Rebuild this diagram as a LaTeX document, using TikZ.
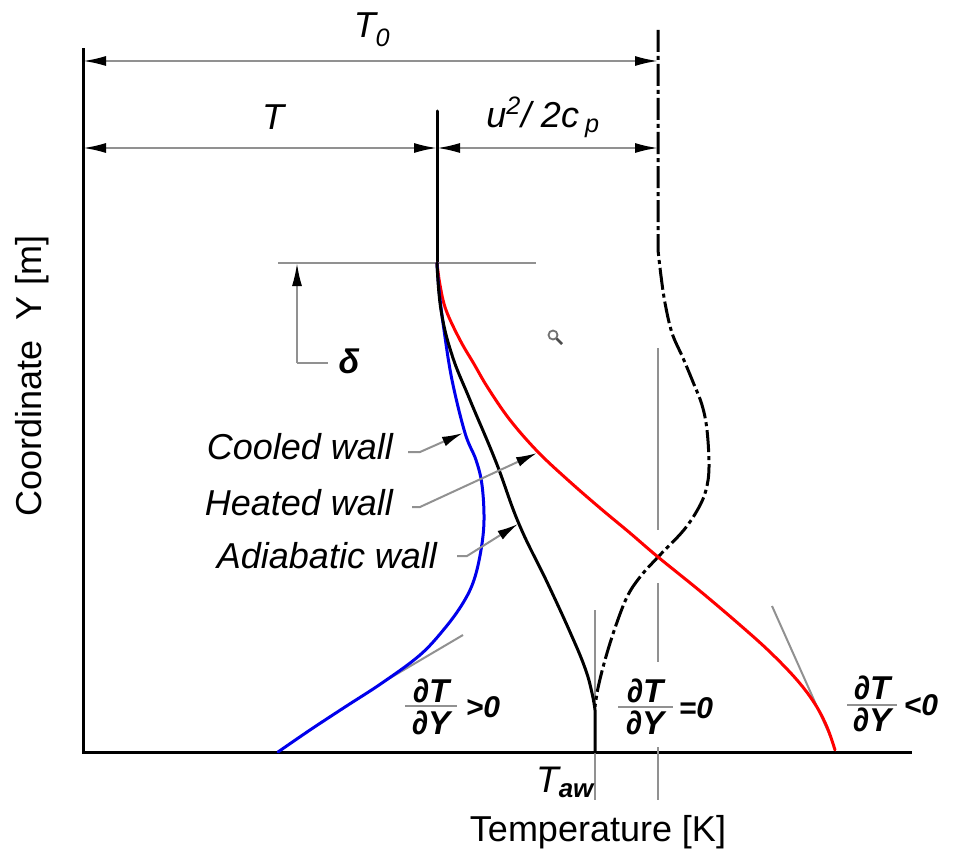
\documentclass[tikz,border=0pt]{standalone}
\usepackage{fontspec}
\setmainfont{Liberation Sans}
\usetikzlibrary{arrows.meta}
\definecolor{dimgray}{RGB}{145,145,145}
\definecolor{cblue}{RGB}{0,0,235}
\definecolor{cred}{RGB}{255,0,0}
\tikzset{
  dimtip/.tip={Latex[length=23pt,width=10pt,color=black]},
  leadtip/.tip={Latex[length=21pt,width=10pt,color=black]},
  thin gray/.style={draw=dimgray, line width=2pt},
  dimarrow/.style={thin gray, dimtip-dimtip},
  leader/.style={thin gray, -leadtip},
  axisline/.style={draw=black, line width=3pt},
  curve/.style={line width=3pt, line join=round, line cap=round},
  dashdot/.style={draw=black, line width=3pt, dash pattern=on 22pt off 4pt on 4pt off 4pt},
  lbl/.style={font=\fontsize{36}{40}\selectfont\itshape, inner sep=0pt},
  upl/.style={font=\fontsize{36}{40}\selectfont, inner sep=0pt},
  fr/.style={font=\fontsize{33}{33}\selectfont\bfseries\itshape, inner sep=0pt},
  frr/.style={font=\fontsize{30}{30}\selectfont\bfseries\itshape, inner sep=0pt},
}
\begin{document}
\begin{tikzpicture}[x=1pt,y=-1pt]
\useasboundingbox (0,0) rectangle (958,864);

% frame
\coordinate (LT) at (83,50);
\coordinate (O) at (83,752);
\coordinate (XE) at (910,752);
\draw[axisline, line cap=rect] (LT) -- (O) -- (XE);

% dimension lines
\coordinate (T0a) at (83,61);
\coordinate (T0b) at (658,61);
\coordinate (Ta) at (83,148);
\coordinate (Tb) at (437,148);
\coordinate (Uc) at (658,148);
\draw[dimarrow] (T0a) -- (T0b);
\draw[dimarrow] (Ta) -- (Tb);
\draw[dimarrow] (Tb) -- (Uc);
\node[lbl] (T0lbl) at (372,30) {T\textsubscript{0}};
\node[lbl] (Tlbl) at (273,117) {T};
\node[lbl] (ulbl) at (543,117) {u\raisebox{4pt}{\textsuperscript{2}}/ 2c\,\textsubscript{p}};

% vertical centre line (outer flow T)
\coordinate (Vtop) at (437,111);
\coordinate (V0) at (437,263);
\draw[curve] (Vtop) -- (V0);

% delta marker
\coordinate (Da) at (278,263);
\coordinate (Db) at (536,263);
\coordinate (Dv) at (297,263);
\coordinate (Dc) at (297,363);
\coordinate (Dh) at (328,363);
\draw[thin gray] (Da) -- (Db);
\draw[thin gray, -dimtip] (Dc) -- (Dv);
\draw[thin gray] (Dc) -- (Dh);
\node[font=\fontsize{34}{34}\selectfont\bfseries\itshape, inner sep=0pt] (delta) at (349,361) {δ};

% magnifier glyph
\coordinate (mg) at (553,335);
\coordinate (mh) at (562,344);
\draw[black!55, line width=1.8pt] (mg) circle (4.5);
\draw[black!70, line width=2.5pt] (mg) ++(3.5,3.5) -- (mh);

% gray reference lines
\coordinate (G1a) at (595,610);
\coordinate (G1b) at (595,800);
\draw[thin gray] (G1a) -- (G1b);
\coordinate (G2a) at (658,348);
\coordinate (G2b) at (658,530);
\coordinate (G2c) at (658,583);
\coordinate (G2d) at (658,662);
\coordinate (G2e) at (658,747);
\coordinate (G2f) at (658,800);
\draw[thin gray] (G2a) -- (G2b);
\draw[thin gray] (G2c) -- (G2d);
\draw[thin gray] (G2e) -- (G2f);

% tangents
\coordinate (tb1) at (463,635);
\coordinate (tb2) at (385,681);
\draw[thin gray] (tb1) -- (tb2);
\coordinate (tr1) at (772,606);
\coordinate (tr2) at (831,738);
\draw[thin gray] (tr1) -- (tr2);

% stagnation temperature profile (dash-dot)
\coordinate (S0) at (658,30);
\draw[dashdot, line join=round] (S0) -- plot[smooth, tension=0.6] coordinates {
  (658,250) (661,276) (665,303) (672,333) (683,358) (693,382) (702,405)
  (707,430) (709,467) (706,490) (698,509) (683,531) (658,557) (640,577)
  (627,597) (615,628) (605,660) (598,688) (595,707)};

% red: heated wall
\draw[curve, cred] plot[smooth, tension=0.6] coordinates {
  (437,263) (440,285) (446,310) (460,340) (474,364) (488,388) (510,420)
  (538,452) (569,481) (600,508) (630,533) (658,557) (700,591) (740,625)
  (770,652) (797,680) (815,704) (827,727) (835,750)};

% blue: cooled wall
\draw[curve, cblue] plot[smooth, tension=0.6] coordinates {
  (437,263) (439,290) (444,330) (452,380) (465,433) (476,460) (482,485)
  (484,520) (481,550) (474,580) (463,603) (445,628) (420,655) (382,683)
  (345,707) (310,730) (278,752)};

% black: adiabatic wall
\draw[curve, black] plot[smooth, tension=0.7] coordinates {
  (437,263) (441,310) (452,355) (470,400) (496,462) (519,524) (547,582)
  (570,632) (585,668) (592,693) (595,710)} -- (595,752);

% wall labels
\node[lbl] (cool) at (300,447) {Cooled wall};
\node[lbl] (heat) at (299,503) {Heated wall};
\node[lbl] (adia) at (327,556) {Adiabatic wall};
\coordinate (cA) at (408,452); \coordinate (cB) at (420,452); \coordinate (cC) at (463,433);
\coordinate (hA) at (412,507); \coordinate (hB) at (420,507); \coordinate (hC) at (537,453);
\coordinate (aA) at (457,556); \coordinate (aB) at (467,556); \coordinate (aC) at (518,524);
\draw[leader] (cA) -- (cB) -- (cC);
\draw[leader] (hA) -- (hB) -- (hC);
\draw[leader] (aA) -- (aB) -- (aC);

% gradient labels
\node[fr] (n1) at (431,691) {∂T};
\node[fr] (d1) at (431,723) {∂Y};
\coordinate (b1a) at (405,706); \coordinate (b1b) at (457,706);
\draw[thin gray] (b1a) -- (b1b);
\node[frr] (r1) at (483,707) {>0};

\node[fr] (n2) at (645,691) {∂T};
\node[fr] (d2) at (645,723) {∂Y};
\coordinate (b2a) at (618,707); \coordinate (b2b) at (673,707);
\draw[thin gray] (b2a) -- (b2b);
\node[frr] (r2) at (696,708) {=0};

\node[fr] (n3) at (872,688) {∂T};
\node[fr] (d3) at (872,720) {∂Y};
\coordinate (b3a) at (847,705); \coordinate (b3b) at (897,705);
\draw[thin gray] (b3a) -- (b3b);
\node[frr] (r3) at (921,705) {<0};

% axis labels
\node[font=\fontsize{37}{40}\selectfont\itshape, inner sep=0pt, anchor=base] (Taw) at (565,792) {T\textsubscript{\bfseries aw}};
\node[upl] (xlab) at (598,832) {Temperature [K]};
\node[upl, rotate=90] (ylab) at (32,376) {Coordinate\ \ Y [m]};
\end{tikzpicture}
\end{document}
